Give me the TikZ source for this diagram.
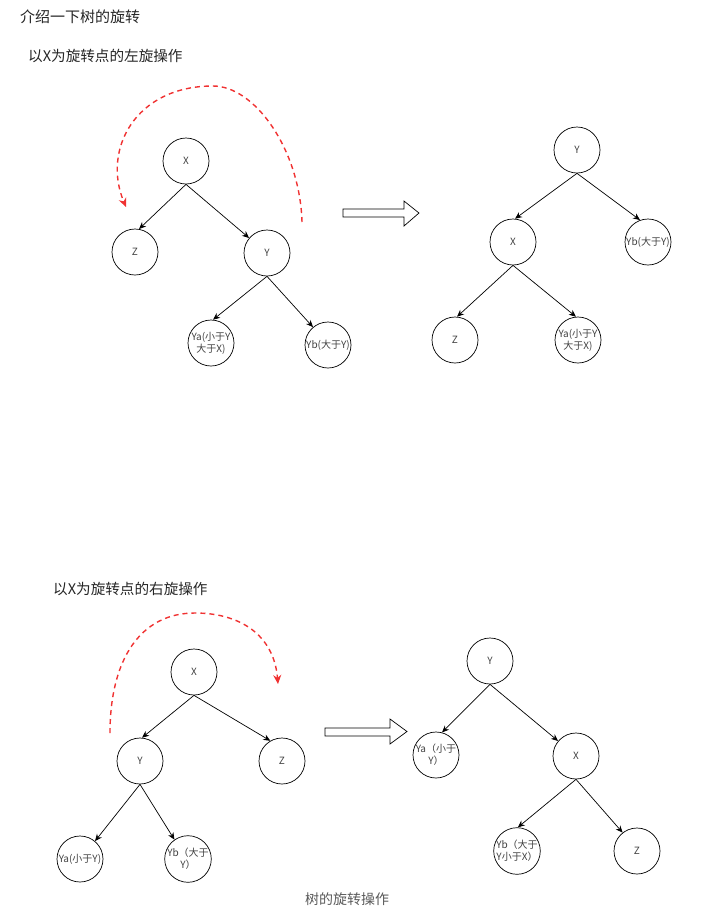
\documentclass[tikz,border=0pt]{standalone}
\usepackage{fontspec}
\setmainfont{Noto Sans CJK SC}
\usetikzlibrary{arrows.meta}
\definecolor{rotred}{RGB}{240,50,50}
\tikzset{
	tnode/.style={draw, circle, minimum size=46pt, inner sep=0pt, line width=0.7pt, align=center, font=\fontsize{10}{12}\selectfont, text=black!75},
	tedge/.style={-{Stealth[length=7pt,width=6pt]}, line width=0.7pt},
	rot/.style={draw=rotred, line width=1.4pt, dash pattern=on 5pt off 4pt, -{Stealth[length=9pt,width=8pt]}},
	hollow/.style={draw, fill=white, line width=0.7pt},
	heading/.style={anchor=west, inner sep=0pt, font=\fontsize{14.6}{18}\selectfont, text=black!85}
}
\begin{document}
\begin{tikzpicture}[x=1pt,y=-1pt]
	\useasboundingbox (0,0) rectangle (724,914);

	\node[heading, font=\fontsize{15}{18}\selectfont] (title) at (20,17) {介绍一下树的旋转};
	\node[heading] (left) at (28,56) {以X为旋转点的左旋操作};
	\node[heading] (right) at (53,589) {以X为旋转点的右旋操作};
	\node[font=\fontsize{14}{16}\selectfont, text=black!65] (caption) at (347,899) {树的旋转操作};

	% left rotation, before
	\node[tnode] (lx) at (186,161) {X};
	\node[tnode] (lz) at (135,252) {Z};
	\node[tnode] (ly) at (267,253) {Y};
	\node[tnode] (lya) at (211,343) {Ya(小于Y\\大于X)};
	\node[tnode] (lyb) at (328,345) {Yb(大于Y)};
	\draw[tedge] (lx.south) -- (lz.80);
	\draw[tedge] (lx.south) -- (ly.140);
	\draw[tedge] (ly.south) -- (lya.85);
	\draw[tedge] (ly.south) -- (lyb.130);

	\coordinate (la) at (302,222);
	\coordinate (lb) at (126,207);
	\draw[rot] (la) .. controls (300,150) and (255,86) .. (213,86) .. controls (135,86) and (102,150) .. (lb);

	\draw[hollow] (343,209) -- (404,209) -- (404,201) -- (419,213) -- (404,226) -- (404,217) -- (343,217) -- cycle;

	% left rotation, after
	\node[tnode] (ly') at (577,150) {Y};
	\node[tnode] (lx') at (513,242) {X};
	\node[tnode] (lyb') at (648,242) {Yb(大于Y)};
	\node[tnode] (lz') at (455,340) {Z};
	\node[tnode] (lya') at (578,340) {Ya(小于Y\\大于X)};
	\draw[tedge] (ly'.south) -- (lx'.85);
	\draw[tedge] (ly'.south) -- (lyb'.110);
	\draw[tedge] (lx'.south) -- (lz'.85);
	\draw[tedge] (lx'.south) -- (lya'.95);

	% right rotation, before
	\node[tnode] (rx) at (194,672) {X};
	\node[tnode] (ry) at (140,761) {Y};
	\node[tnode] (rz) at (282,761) {Z};
	\node[tnode] (rya) at (80,859) {Ya(小于Y)};
	\node[tnode] (ryb) at (188,859) {Yb（大于\\Y）};
	\draw[tedge] (rx.south) -- (ry.85);
	\draw[tedge] (rx.south) -- (rz.120);
	\draw[tedge] (ry.south) -- (rya.50);
	\draw[tedge] (ry.south) -- (ryb.125);

	\coordinate (ra) at (110,733);
	\coordinate (rb) at (278,684);
	\draw[rot] (ra) .. controls (110,660) and (140,613) .. (195,613) .. controls (240,613) and (274,635) .. (rb);

	\draw[hollow] (325,728) -- (390,728) -- (390,719) -- (407,731.5) -- (390,744) -- (390,736) -- (325,736) -- cycle;

	% right rotation, after
	\node[tnode] (ry') at (490,661) {Y};
	\node[tnode] (rya') at (436,755) {Ya（小于\\Y）};
	\node[tnode] (rx') at (576,756) {X};
	\node[tnode] (ryb') at (517,851) {Yb（大于\\Y小于X）};
	\node[tnode] (rz') at (637,851) {Z};
	\draw[tedge] (ry'.south) -- (rya'.75);
	\draw[tedge] (ry'.south) -- (rx'.140);
	\draw[tedge] (rx'.south) -- (ryb'.88);
	\draw[tedge] (rx'.south) -- (rz'.128);
\end{tikzpicture}
\end{document}
